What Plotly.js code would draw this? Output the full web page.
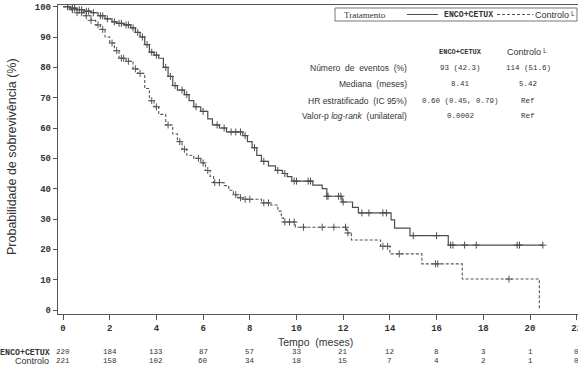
<!DOCTYPE html>
<html><head><meta charset="utf-8">
<script src="https://cdn.plot.ly/plotly-3.0.1.min.js"></script>
<style>html,body{margin:0;padding:0;overflow:hidden;background:#fff}#wrap{width:578px;height:367px;overflow:hidden}</style>
</head><body><div id="wrap"><div id="chart" style="width:583px;height:367px"></div></div>
<script>
// ---- data ----
const encoTime = [0,0.3,0.6,0.9,1.2,1.5,1.8,2.1,2.3,2.6,2.9,3.1,3.3,3.5,3.7,3.9,4.1,4.3,4.5,4.7,4.9,5.2,5.4,5.6,5.9,6.2,6.4,6.7,7.0,7.7,7.9,8.1,8.3,8.5,8.8,9.1,9.4,9.6,9.8,10.7,11.1,11.3,11.95,12.4,12.65,14.05,14.2,14.86,16.5,20.55];
const encoSurv = [100,99.5,99,98.5,98,97,96,95,94.5,94,93,91.5,90,87.5,85,84,83,80,77,74,72.5,71,69,67,65.5,63,61,60,58.7,57.5,55.5,53.5,51,49,47.5,46,45,44,42.5,41.2,40,37.5,35.6,33.8,32,29.7,27,24.5,21.4,21.4];
const encoCens = [0.2,0.4,0.5,0.7,0.8,1.0,1.1,1.3,1.6,1.7,1.9,2.2,2.4,2.5,2.7,2.8,3.0,3.2,3.4,3.6,3.8,4.0,4.4,4.6,4.8,5.1,5.3,5.7,6.0,6.6,6.9,7.2,7.4,7.6,7.8,8.2,8.6,9.2,9.5,9.9,10.0,10.5,10.6,11.3,11.35,11.8,11.9,12.0,12.8,13.1,13.7,13.85,15.0,16.0,16.6,16.7,17.2,17.7,19.45,19.55,20.55];

const ctrlTime = [0,0.3,0.6,0.9,1.2,1.4,1.6,1.8,2.0,2.2,2.4,2.7,3.0,3.2,3.5,3.7,3.9,4.1,4.4,4.7,4.9,5.1,5.3,5.6,5.9,6.1,6.3,6.45,6.9,7.1,7.3,7.5,7.7,8.5,8.9,9.2,9.35,9.45,9.95,12.15,12.35,13.6,14.0,15.37,17.1,20.4];
const ctrlSurv = [100,99,98,97,95.5,94,92.5,90,88,85.5,83,82,79.5,78,73,69,67,64.5,61,58,55.5,53,51,50,48.5,46,44,42,41,39.5,38,37,36.5,35.3,34.6,32.6,30.3,29,27.3,25.4,23.1,21,18.5,15.2,10.2,0];
const ctrlCens = [0.2,0.4,0.6,0.8,1.0,1.2,1.5,1.7,2.1,2.3,2.5,2.6,2.8,3.1,3.3,3.8,4.0,4.5,5.0,5.2,5.8,6.0,6.2,6.5,6.7,7.4,7.6,7.8,8.0,8.6,8.8,9.5,9.7,9.9,10.3,11.1,11.6,12.1,12.2,13.7,13.9,14.4,15.95,16.05,19.1];

const riskTimes = [0,2,4,6,8,10,12,14,16,18,20,22];
const riskEnco = [220,184,133,87,57,33,21,12,8,3,1,0];
const riskCtrl = [221,158,102,60,34,18,15,7,4,2,1,0];

const yTicks = [0,10,20,30,40,50,60,70,80,90,100];
const xTicks = [0,2,4,6,8,10,12,14,16,18,20,22];

const groupNames = ['ENCO+CETUX','Controlo ᴸ'];
const statLabels = ['Número  de  eventos  (%)','Mediana  (meses)','HR estratificado  (IC 95%)','Valor-p <i>log-rank</i>  (unilateral)'];
const statEnco = ['93 (42.3)','8.41','0.60 (0.45, 0.79)','0.0002'];
const statCtrl = ['114 (51.6)','5.42','Ref','Ref'];

// ---- helpers ----
function stepLookup(times, surv, t){ let v = surv[0]; for(let i=0;i<times.length;i++){ if(times[i]<=t) v=surv[i]; } return v; }

const lineCol = '#4d4d4d', txtCol = '#333';
const mono = 'Liberation Mono, Courier New, monospace';
const sans = 'Liberation Sans, Arial, sans-serif';

const traces = [
 {x:encoTime, y:encoSurv, mode:'lines', line:{shape:'hv', color:lineCol, width:1.2}, hoverinfo:'skip', showlegend:false},
 {x:ctrlTime, y:ctrlSurv, mode:'lines', line:{shape:'hv', color:'#555', width:1.1, dash:'3px,2px'}, hoverinfo:'skip', showlegend:false},
 {x:encoCens, y:encoCens.map(t=>stepLookup(encoTime,encoSurv,t)), mode:'markers', marker:{symbol:'cross-thin-open', size:5, color:lineCol, line:{color:lineCol,width:1}}, showlegend:false},
 {x:ctrlCens, y:ctrlCens.map(t=>stepLookup(ctrlTime,ctrlSurv,t)), mode:'markers', marker:{symbol:'cross-thin-open', size:5, color:'#555', line:{color:'#555',width:1}}, showlegend:false}
];

const L=58, T=5, W=583, H=367, B=53;
const pw = W-L, ph = H-T-B;
const px = v => (v-L)/pw;
const py = v => (H-B-v)/ph;

const ann = [];
// axis titles
ann.push({xref:'paper',yref:'paper',x:px(12),y:py(157),text:'Probabilidade de sobrevivência (%)',textangle:-90,showarrow:false,font:{family:sans,size:12.5,color:txtCol},xanchor:'center',yanchor:'middle'});
ann.push({xref:'paper',yref:'paper',x:px(315),y:py(342),text:'Tempo  (meses)',showarrow:false,font:{family:sans,size:10.5,color:txtCol},xanchor:'center',yanchor:'middle'});
// risk table
ann.push({xref:'paper',yref:'paper',x:px(52),y:py(352),text:'<b>ENCO+CETUX</b>',showarrow:false,font:{family:mono,size:8.3,color:txtCol},xanchor:'right',yanchor:'middle'});
ann.push({xref:'paper',yref:'paper',x:px(51),y:py(361),text:'Controlo',showarrow:false,font:{family:sans,size:9,color:txtCol},xanchor:'right',yanchor:'middle'});
riskTimes.forEach((t,i)=>{
  ann.push({xref:'x',yref:'paper',x:t,y:py(352),text:String(riskEnco[i]),showarrow:false,font:{family:mono,size:7.5,color:txtCol},xanchor:'center',yanchor:'middle'});
  ann.push({xref:'x',yref:'paper',x:t,y:py(361),text:String(riskCtrl[i]),showarrow:false,font:{family:mono,size:7.5,color:txtCol},xanchor:'center',yanchor:'middle'});
});
// stats table
ann.push({xref:'paper',yref:'paper',x:px(460),y:py(52),text:'<b>ENCO+CETUX</b>',showarrow:false,font:{family:mono,size:7,color:txtCol},xanchor:'center',yanchor:'middle'});
ann.push({xref:'paper',yref:'paper',x:px(527),y:py(52),text:groupNames[1],showarrow:false,font:{family:sans,size:9,color:txtCol},xanchor:'center',yanchor:'middle'});
const rowY=[68.5,84,100.5,116];
statLabels.forEach((s,i)=>{
  ann.push({xref:'paper',yref:'paper',x:px(409),y:py(rowY[i]),text:s,showarrow:false,font:{family:sans,size:8.5,color:txtCol},xanchor:'right',yanchor:'middle'});
  ann.push({xref:'paper',yref:'paper',x:px(460),y:py(rowY[i]),text:statEnco[i],showarrow:false,font:{family:mono,size:7.5,color:txtCol},xanchor:'center',yanchor:'middle'});
  ann.push({xref:'paper',yref:'paper',x:px(528),y:py(rowY[i]),text:statCtrl[i],showarrow:false,font:{family:mono,size:7.5,color:txtCol},xanchor:'center',yanchor:'middle'});
});
// legend
ann.push({xref:'paper',yref:'paper',x:px(342),y:py(14.5),text:'Tratamento',showarrow:false,font:{family:'Liberation Serif, serif',size:9,color:txtCol},xanchor:'left',yanchor:'middle'});
ann.push({xref:'paper',yref:'paper',x:px(442),y:py(14.5),text:'<b>'+groupNames[0]+'</b>',showarrow:false,font:{family:mono,size:8.2,color:txtCol},xanchor:'left',yanchor:'middle'});
ann.push({xref:'paper',yref:'paper',x:px(533),y:py(14.5),text:groupNames[1],showarrow:false,font:{family:sans,size:9,color:txtCol},xanchor:'left',yanchor:'middle'});

const shapes = [
 {type:'rect',xref:'paper',yref:'paper',x0:px(335),x1:px(577),y0:py(21),y1:py(8),line:{color:'#777',width:1}},
 {type:'line',xref:'paper',yref:'paper',x0:px(407),x1:px(438),y0:py(14.5),y1:py(14.5),line:{color:lineCol,width:1}},
 {type:'line',xref:'paper',yref:'paper',x0:px(497),x1:px(533),y0:py(14.5),y1:py(14.5),line:{color:'#555',width:1,dash:'3px,2px'}}
];

const layout = {
  width:W, height:H, margin:{l:L,r:0,t:T,b:B,pad:0},
  paper_bgcolor:'#fff', plot_bgcolor:'#fff', showlegend:false,
  xaxis:{range:[-0.214,22.27], tickvals:xTicks, ticktext:xTicks.map(String), showgrid:false, zeroline:false,
         showline:true, mirror:true, linecolor:'#555', linewidth:1.2, ticks:'outside', ticklen:5, tickcolor:'#555',
         tickfont:{family:mono,size:9,color:txtCol,weight:'bold'}},
  yaxis:{range:[-1.32,100.55], tickvals:yTicks, ticktext:yTicks.map(String), showgrid:false, zeroline:false,
         showline:true, mirror:true, linecolor:'#555', linewidth:1.2, ticks:'outside', ticklen:4, tickcolor:'#555',
         tickfont:{family:mono,size:9,color:txtCol,weight:'bold'}},
  annotations:ann, shapes:shapes
};
Plotly.newPlot('chart', traces, layout, {displayModeBar:false, staticPlot:true});
</script></body></html>
